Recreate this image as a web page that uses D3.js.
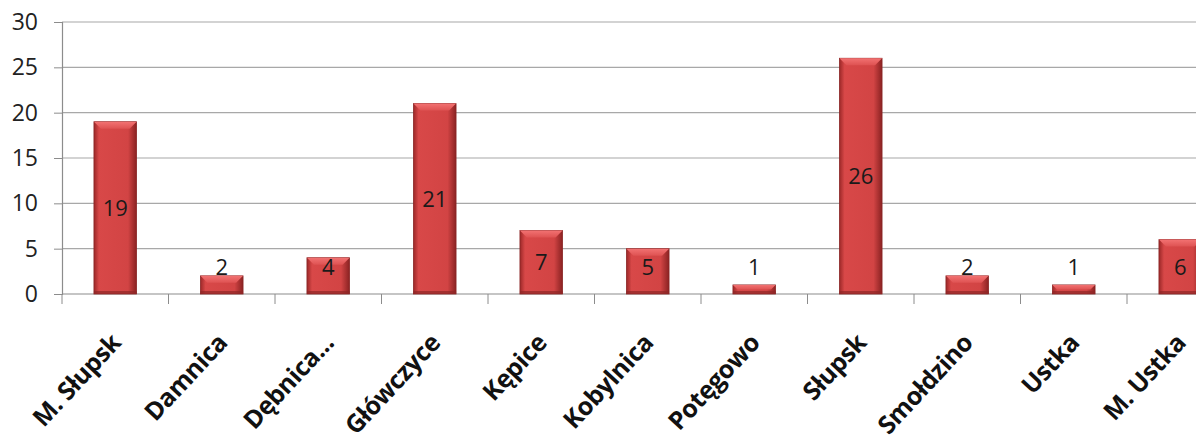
<!DOCTYPE html>
<html>
<head>
<meta charset="utf-8">
<script src="https://cdn.jsdelivr.net/npm/d3@7"></script>
<style>
  body { margin: 0; background: #fff; }
  svg { display: block; }
  .tick text { font-family: 'Open Sans', sans-serif; }
</style>
</head>
<body>
<svg id="chart" width="1196" height="444"></svg>
<script>
'use strict';
var categories = ['M. Słupsk', 'Damnica', 'Dębnica...', 'Główczyce', 'Kępice', 'Kobylnica',
                  'Potęgowo', 'Słupsk', 'Smołdzino', 'Ustka', 'M. Ustka'];
var values = [19, 2, 4, 21, 7, 5, 1, 26, 2, 1, 6];
var yTicks = [0, 5, 10, 15, 20, 25, 30];

var margin = {top: 22, left: 62, bottom: 150},
    height = 444 - margin.top - margin.bottom,
    bandW = 106.5,
    width = bandW * categories.length;

var svg = d3.select('#chart');

var x = d3.scaleBand()
          .domain(categories)
          .range([0, width])
          .paddingInner(0.6)
          .paddingOuter(0.3);

var y = d3.scaleLinear().domain([0, 30]).range([height, 0]);

var defs = svg.append('defs');
var side = defs.append('linearGradient').attr('id', 'barSide');
side.append('stop').attr('offset', '0%').attr('stop-color', '#9c2828');
side.append('stop').attr('offset', '12%').attr('stop-color', '#d84848');
side.append('stop').attr('offset', '80%').attr('stop-color', '#d24444');
side.append('stop').attr('offset', '100%').attr('stop-color', '#8a2222');
var topG = defs.append('linearGradient').attr('id', 'barTop')
               .attr('x1', 0).attr('y1', 0).attr('x2', 0).attr('y2', 1);
topG.append('stop').attr('offset', '0%').attr('stop-color', '#f27272');
topG.append('stop').attr('offset', '100%').attr('stop-color', '#de5252');

var g = svg.append('g')
           .attr('transform', 'translate(' + margin.left + ',' + margin.top + ')');

// gridlines run past the right edge, like the original
g.append('g')
 .selectAll('line')
 .data(yTicks.slice(1))
 .enter().append('line')
   .attr('x1', 0).attr('x2', 1200)
   .attr('y1', function(d) { return y(d); })
   .attr('y2', function(d) { return y(d); })
   .attr('stroke', '#a8a8a8')
   .attr('stroke-width', 1.2);

// y axis
var yAxis = g.append('g')
             .call(d3.axisLeft(y).tickValues(yTicks).tickSize(8).tickPadding(16));
yAxis.select('.domain').attr('stroke', '#8c8c8c').attr('stroke-width', 1.2);
yAxis.selectAll('.tick line').attr('stroke', '#8c8c8c');
yAxis.selectAll('.tick text')
     .attr('font-size', 23).attr('fill', '#222');

// x axis: ticks on the band boundaries
var xAxis = g.append('g').attr('transform', 'translate(0,' + height + ')');
xAxis.append('line').attr('x1', 0).attr('x2', 1200)
     .attr('stroke', '#8c8c8c').attr('stroke-width', 1.2);
xAxis.selectAll('.bound')
     .data(categories)
     .enter().append('line')
       .attr('class', 'bound')
       .attr('x1', function(d) { return x(d) - x.step() * x.paddingInner() / 2; })
       .attr('x2', function(d) { return x(d) - x.step() * x.paddingInner() / 2; })
       .attr('y1', 0).attr('y2', 10)
       .attr('stroke', '#8c8c8c');
xAxis.selectAll('text')
     .data(categories)
     .enter().append('text')
       .attr('transform', function(d) {
         return 'translate(' + (x(d) + x.bandwidth() / 2 + 7) + ',50) rotate(-47)';
       })
       .attr('text-anchor', 'end')
       .attr('font-family', "'Open Sans', sans-serif")
       .attr('font-weight', 'bold')
       .attr('font-size', 25)
       .attr('letter-spacing', -0.4)
       .attr('fill', '#111')
       .text(function(d) { return d; });

// bars
var bev = 7;
var bar = g.selectAll('.bar')
           .data(categories.map(function(c, i) { return {name: c, value: values[i]}; }))
           .enter().append('g')
             .attr('class', 'bar');

bar.append('rect')
   .attr('x', function(d) { return x(d.name); })
   .attr('y', function(d) { return y(d.value); })
   .attr('width', x.bandwidth())
   .attr('height', function(d) { return height - y(d.value); })
   .attr('fill', 'url(#barSide)')
   .attr('stroke', '#8a2626')
   .attr('stroke-width', 0.8);

bar.append('path')
   .attr('d', function(d) {
     var x0 = x(d.name), x1 = x0 + x.bandwidth(), t = y(d.value),
         b = Math.min(bev, (height - t) / 2);
     return 'M' + x0 + ',' + t + 'L' + x1 + ',' + t + 'L' + (x1 - b) + ',' + (t + b) +
            'L' + (x0 + b) + ',' + (t + b) + 'Z';
   })
   .attr('fill', 'url(#barTop)');

bar.append('rect')
   .attr('x', function(d) { return x(d.name); })
   .attr('y', height - 3)
   .attr('width', x.bandwidth())
   .attr('height', 3)
   .attr('fill', '#8e2626')
   .attr('opacity', 0.7);

// value labels: centred, but never lower than the "3" level
bar.append('text')
   .attr('x', function(d) { return x(d.name) + x.bandwidth() / 2; })
   .attr('y', function(d) { return y(Math.max(d.value / 2, 3)); })
   .attr('dy', '0.36em')
   .attr('text-anchor', 'middle')
   .attr('font-family', "'Open Sans', sans-serif")
   .attr('font-size', 22)
   .attr('fill', '#1a1a1a')
   .text(function(d) { return d.value; });
</script>
</body>
</html>
